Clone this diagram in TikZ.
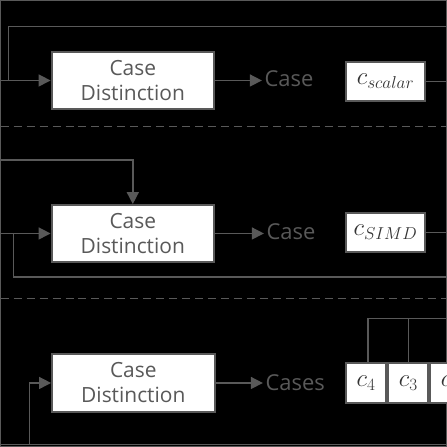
\documentclass[tikz,border=0pt]{standalone}
\usepackage{fontspec}
\setmainfont{Open Sans}
\usetikzlibrary{arrows.meta,positioning}
\definecolor{linegray}{HTML}{595959}

\begin{document}
\begin{tikzpicture}[x=1pt, y=-1pt, line width=1.5pt,
  every path/.style={draw=linegray},
  arr/.style={-{Triangle[length=12pt,width=12pt]}},
  sep/.style={dash pattern=on 8pt off 5pt, line width=1.2pt},
  casebox/.style={draw=linegray, line width=2pt, fill=white, text=linegray, align=center,
    minimum width=163pt, minimum height=57pt, inner sep=0pt,
    font=\fontsize{21}{25}\selectfont},
  varbox/.style={draw=linegray, line width=2pt, fill=white, text=black!80, inner sep=0pt,
    minimum height=40pt, font=\fontsize{23}{26}\selectfont},
  caselabel/.style={text=linegray, anchor=west, inner sep=2pt,
    font=\fontsize{22}{24}\selectfont}]
\fill[black] (0,0) rectangle (447,447);
\useasboundingbox (0,0) rectangle (447,447);

% scalar
\node[casebox] (cd1) at (132.5,80) {Case\\Distinction};
\node[caselabel] (case1) at (262,78) {Case};
\node[varbox, minimum width=80pt] (cs) at (386,81) {$c_{scalar}$};
\coordinate (l1) at (0,80);
\coordinate (r1) at (447,26);
\draw[arr] (l1) -- (cd1.west);
\draw (r1) -| ([xshift=8pt]l1);
\draw[arr] (cd1.east) -- (cd1.east -| case1.west);
\draw (cs.east) -- +(30,0);

\draw[sep] (0,126) -- (447,126);

% SIMD
\node[casebox] (cd2) at (132.5,233.5) {Case\\Distinction};
\node[caselabel] (case2) at (264,232) {Case};
\node[varbox, minimum width=80pt] (csimd) at (386,232.5) {$c_{SIMD}$};
\coordinate (l2a) at (0,160);
\coordinate (l2b) at (0,233.5);
\coordinate (r2) at (447,277);
\draw[arr] (l2a) -| (cd2.north);
\draw[arr] (l2b) -- (cd2.west);
\draw ([xshift=13pt]l2b) |- (r2);
\draw[arr] (cd2.east) -- (cd2.east -| case2.west);
\draw (csimd.east) -- +(30,0);

\draw[sep] (0,299) -- (447,299);

% vector
\node[casebox, minimum height=59pt] (cd3) at (133,383.5) {Case\\Distinction};
\node[caselabel] (cases) at (263,383) {Cases};
\node[varbox, minimum width=41pt, minimum height=41pt] (c4) at (366.5,383.5) {$c_4$};
\node[varbox, minimum width=40pt, minimum height=41pt, right=0pt of c4] (c3) {$c_3$};
\node[varbox, minimum width=40pt, minimum height=41pt, right=0pt of c3] (c2) {$c_2$};
\coordinate (b3) at (0,445);
\coordinate (r3) at (447,319);
\draw (b3) -- +(447,0);
\draw[arr] ([xshift=29pt]b3) |- (cd3.west);
\draw[arr] (cd3.east) -- (cd3.east -| cases.west);
\draw ([xshift=2pt]c4.north) |- (r3);
\draw (c3.north) -- (c3.north |- r3);
\end{tikzpicture}
\end{document}
